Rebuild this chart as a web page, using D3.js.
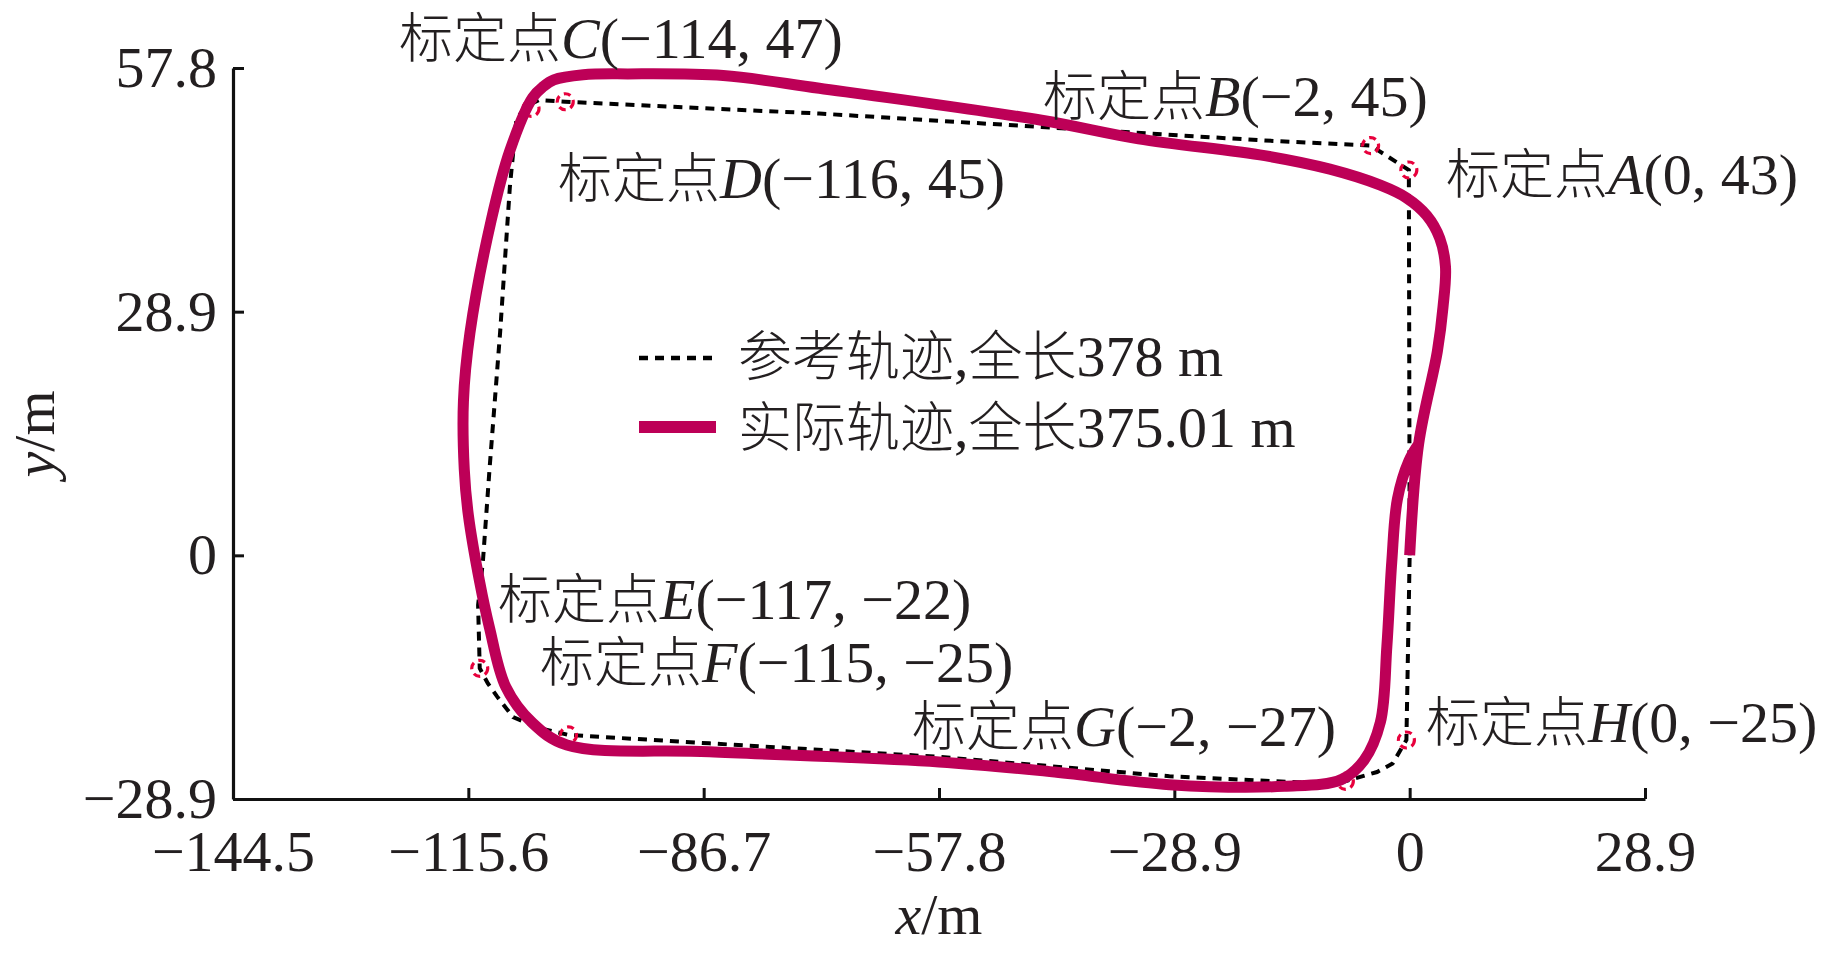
<!DOCTYPE html>
<html>
<head>
<meta charset="utf-8">
<script src="https://cdn.jsdelivr.net/npm/d3@7/dist/d3.min.js"></script>
<style>
  body { margin: 0; background: #fff; }
  text { font-family: "Liberation Serif", "Noto Sans CJK SC", serif; fill: #231f20; }
  .cjk { font-family: "Noto Sans CJK SC", sans-serif; font-weight: 300; font-size: 54px; }
</style>
</head>
<body>
<svg id="chart" width="1829" height="958"></svg>
<script>
// axis ticks
var xTicks = [-144.5, -115.6, -86.7, -57.8, -28.9, 0, 28.9];
var yTicks = [-28.9, 0, 28.9, 57.8];

// reference track (dashed)
var refX = [0, -0.1, -4.8, -17.8, -45.2, -72.5, -103.7, -106.9, -108.6, -109.7, -110.5, -111.7, -113.0, -113.8,
            -114.4, -114.2, -113.2, -112.1, -110.1, -106.8, -103.3, -86.0, -57.8, -29.5, -11.9, -7.9, -4.0, -2.1, -0.4, 0];
var refY = [0, 45.7, 48.6, 49.2, 50.8, 52.4, 53.8, 54.0, 53.2, 51.7, 43.7, 26.4, 10.2, -0.6,
            -5.9, -13.4, -15.2, -16.7, -19.2, -20.5, -21.3, -22.3, -23.9, -26.2, -27.0, -26.8, -25.7, -24.7, -21.9, 0];

// actual track (thick)
var actX = [0, 1.1, 3.4, 4.1, 4.4, 3.7, 2.1, -0.4, -3.6, -9.8, -17.8, -33.3, -45.2, -72.5, -84.3, -96.0, -101.5, -105.1,
            -106.4, -107.7, -110.5, -112.8, -115.4, -116.2, -116.1, -115.6, -114.2, -113.0, -111.0, -107.7, -103.5,
            -86.0, -57.8, -43.6, -29.5, -15.4, -8.4, -5.6, -3.6, -2.8, -2.2, -1.5, -0.1, 1.1];
var actY = [0, 13.2, 24.2, 29.5, 34.2, 37.6, 40.3, 42.4, 43.9, 45.8, 47.4, 49.4, 51.6, 55.4, 56.9, 57.1, 57.0, 56.4,
            55.6, 54.3, 48.0, 39.7, 26.4, 18.3, 10.2, 4.8, -3.2, -8.6, -15.6, -19.9, -22.5,
            -23.3, -24.5, -25.7, -27.2, -27.4, -26.6, -24.3, -19.8, -10.8, -0.8, 6.7, 11.2, 13.2];

// calibration points: names, nominal coordinates (labels), marker positions on the plot
var calibNames = ["A", "B", "C", "D", "E", "F", "G", "H"];
var calibX = [0, -2, -114, -116, -117, -115, -2, 0];
var calibY = [43, 45, 47, 45, -22, -25, -27, -25];
var markX = [-0.1, -4.8, -103.7, -107.9, -114.2, -103.3, -7.9, -0.4];
var markY = [45.7, 48.6, 53.8, 53.0, -13.4, -21.3, -26.8, -21.9];

var legendLabels = ["参考轨迹,全长378 m", "实际轨迹,全长375.01 m"];

// label placement (pixels, left/baseline)
var labelPos = {
  A: [1446, 194], B: [1043, 116], C: [399, 58], D: [558, 198],
  E: [498, 619], F: [540, 682], G: [912, 746], H: [1426, 742]
};

var svg = d3.select("#chart");
var crimson = "#bd0057";

var x = d3.scaleLinear().domain([-144.5, 28.9]).range([233, 1645]);
var y = d3.scaleLinear().domain([-28.9, 57.8]).range([799, 68]);

function fmt(v) {
  return v < 0 ? "\u2212" + Math.abs(v) : String(v);
}

// axes
var xAxis = svg.append("g")
    .attr("transform", "translate(0,799)")
    .call(d3.axisBottom(x).tickValues(xTicks).tickFormat(fmt)
      .tickSizeInner(-11).tickSizeOuter(0).tickPadding(31));
var yAxis = svg.append("g")
    .attr("transform", "translate(233,0)")
    .call(d3.axisLeft(y).tickValues(yTicks).tickFormat(fmt)
      .tickSizeInner(-11).tickSizeOuter(0).tickPadding(16));

[xAxis, yAxis].forEach(function(g) {
  g.select(".domain").attr("stroke", "#111").attr("stroke-width", 3.2);
  g.selectAll(".tick line").attr("stroke", "#111").attr("stroke-width", 3);
  g.selectAll(".tick text")
    .attr("font-family", "Liberation Serif")
    .attr("font-size", 58)
    .attr("fill", "#231f20");
});

// axis titles
svg.append("text")
    .attr("x", 939).attr("y", 934)
    .attr("text-anchor", "middle")
    .attr("font-size", 58)
    .call(function(t) {
      t.append("tspan").attr("font-style", "italic").text("x");
      t.append("tspan").text("/m");
    });
svg.append("text")
    .attr("transform", "translate(54,434) rotate(-90)")
    .attr("text-anchor", "middle")
    .attr("font-size", 58)
    .call(function(t) {
      t.append("tspan").attr("font-style", "italic").text("y");
      t.append("tspan").text("/m");
    });

// reference track
var refLine = d3.line()
    .x(function(d) { return x(d[0]); })
    .y(function(d) { return y(d[1]); });
var refData = refX.map(function(v, i) { return [v, refY[i]]; });
svg.append("path")
    .datum(refData)
    .attr("d", refLine)
    .attr("fill", "none")
    .attr("stroke", "#000")
    .attr("stroke-width", 4)
    .attr("stroke-dasharray", "9,7");

// calibration markers (under the thick track)
var marks = calibNames.map(function(n, i) { return {name: n, x: markX[i], y: markY[i]}; });
svg.selectAll(".mark")
  .data(marks)
  .enter().append("circle")
    .attr("class", "mark")
    .attr("cx", function(d) { return x(d.x); })
    .attr("cy", function(d) { return y(d.y); })
    .attr("r", 8)
    .attr("fill", "none")
    .attr("stroke", "#e8003c")
    .attr("stroke-width", 3.2)
    .attr("stroke-dasharray", "7,5");

// actual track
var actLine = d3.line()
    .x(function(d) { return x(d[0]); })
    .y(function(d) { return y(d[1]); })
    .curve(d3.curveCatmullRom.alpha(0.5));
var actData = actX.map(function(v, i) { return [v, actY[i]]; });
svg.append("path")
    .datum(actData)
    .attr("d", actLine)
    .attr("fill", "none")
    .attr("stroke", crimson)
    .attr("stroke-width", 11)
    .attr("stroke-linejoin", "round");

// calibration labels
calibNames.forEach(function(n, i) {
  var p = labelPos[n];
  var t = svg.append("text")
      .attr("x", p[0]).attr("y", p[1])
      .attr("font-size", 58);
  t.append("tspan").attr("class", "cjk").text("标定点");
  t.append("tspan").attr("font-style", "italic").text(n);
  t.append("tspan").text("(" + fmt(calibX[i]) + ", " + fmt(calibY[i]) + ")");
});

// legend
var legend = svg.append("g");
legend.append("line")
    .attr("x1", 639).attr("x2", 716).attr("y1", 358).attr("y2", 358)
    .attr("stroke", "#000").attr("stroke-width", 4.5).attr("stroke-dasharray", "9,7");
legend.append("line")
    .attr("x1", 639).attr("x2", 716).attr("y1", 427).attr("y2", 427)
    .attr("stroke", crimson).attr("stroke-width", 12);

legendLabels.forEach(function(s, i) {
  var t = legend.append("text")
      .attr("x", 738).attr("y", 376 + i * 71)
      .attr("font-size", 58);
  var m = s.match(/^([^,]+),(全长)(.*)$/);
  t.append("tspan").attr("class", "cjk").text(m[1]);
  t.append("tspan").text(",");
  t.append("tspan").attr("class", "cjk").text(m[2]);
  t.append("tspan").text(m[3]);
});
</script>
</body>
</html>
